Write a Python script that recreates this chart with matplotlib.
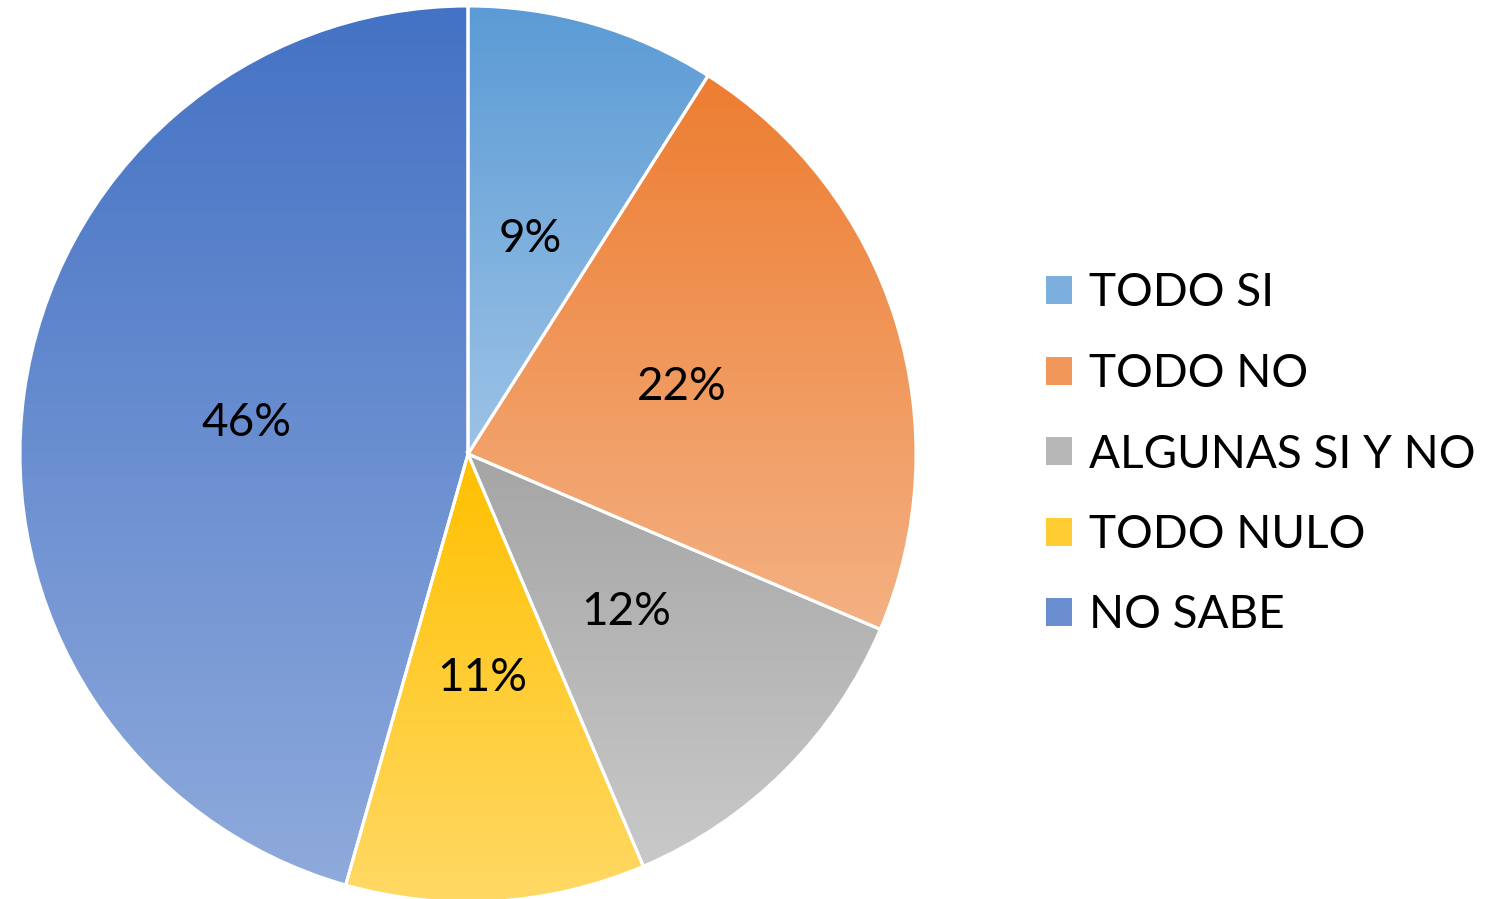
import numpy as np
import matplotlib.pyplot as plt
from matplotlib.patches import Patch
from matplotlib.colors import LinearSegmentedColormap, to_rgb

plt.rcParams['font.family'] = ['Lato', 'DejaVu Sans']

# Data
categories = ["TODO SI", "TODO NO", "ALGUNAS SI Y NO", "TODO NULO", "NO SABE"]
values = [9.0, 22.4, 12.2, 10.8, 45.6]

# gradient colours (top -> bottom) for each slice
top_colors = ["#5B9BD5", "#ED7D31", "#A5A5A5", "#FFC000", "#4472C4"]
bottom_colors = ["#9DC3E6", "#F4B183", "#C9C9C9", "#FFD966", "#8FAADC"]

fig = plt.figure(figsize=(14.93, 8.99), dpi=100)
ax = fig.add_axes([20 / 1493, -3 / 899, 896 / 1493, 896 / 899])

wedges, texts, autotexts = ax.pie(
    values,
    startangle=90,
    counterclock=False,
    radius=1,
    autopct="%.0f%%",
    pctdistance=0.5,
    colors=top_colors,
    wedgeprops=dict(edgecolor="white", linewidth=2.2),
    textprops=dict(fontsize=33, color="black"),
)

# replace flat fills with vertical gradients clipped to each wedge
for w, c0, c1 in zip(wedges, top_colors, bottom_colors):
    verts = w.get_path().vertices
    x0, x1 = verts[:, 0].min(), verts[:, 0].max()
    y0, y1 = verts[:, 1].min(), verts[:, 1].max()
    cmap = LinearSegmentedColormap.from_list("g", [c1, c0])
    grad = np.linspace(0, 1, 256).reshape(-1, 1)
    im = ax.imshow(grad, cmap=cmap, extent=[x0, x1, y0, y1], origin="lower",
                   aspect="auto", zorder=1)
    im.set_clip_path(w)
    w.set_facecolor("none")
    w.set_zorder(2)

for t in autotexts:
    t.set_zorder(3)

ax.set_xlim(-1, 1)
ax.set_ylim(-1, 1)
ax.set_aspect("equal")
ax.axis("off")

# legend squares use the middle of each gradient
mid_colors = [(np.array(to_rgb(a)) + np.array(to_rgb(b))) / 2
              for a, b in zip(top_colors, bottom_colors)]
handles = [Patch(facecolor=c, edgecolor="none") for c in mid_colors]
fig.legend(handles, categories, loc="center left",
           bbox_to_anchor=(1028 / 1493, 0.5 - 5 / 899),
           frameon=False, fontsize=33, handlelength=0.55, handleheight=0.55,
           handletextpad=0.38, labelspacing=0.84, borderaxespad=0)

fig.savefig("out.png", dpi=100)
